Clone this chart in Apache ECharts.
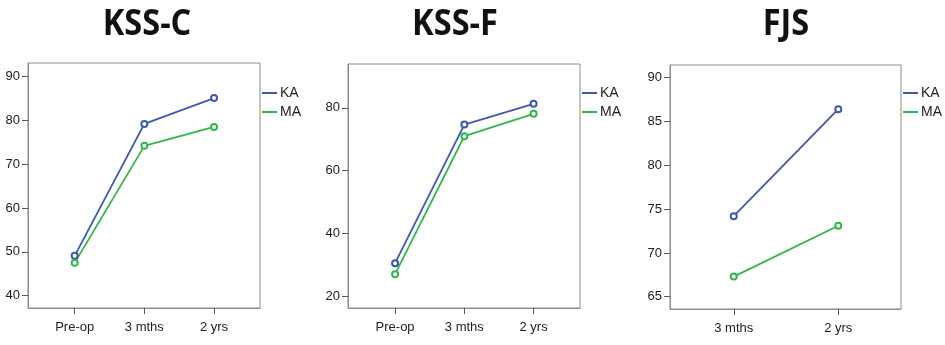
<!DOCTYPE html>
<html>
<head>
<meta charset="utf-8">
<script src="https://cdn.jsdelivr.net/npm/echarts@6/dist/echarts.min.js"></script>
<style>
  html, body { margin: 0; padding: 0; background: #fff; }
  #chart { width: 945px; height: 345px; }
</style>
</head>
<body>
<div id="chart"></div>
<script>
// categories
const catsLong = ['Pre-op', '3 mths', '2 yrs'];
const catsShort = ['3 mths', '2 yrs'];

// KSS-C
const kssC_KA = [49.1, 79.2, 85.1];
const kssC_MA = [47.5, 74.2, 78.5];
const kssC_ticks = [40, 50, 60, 70, 80, 90];

// KSS-F
const kssF_KA = [30.5, 74.7, 81.3];
const kssF_MA = [27.0, 71.0, 78.1];
const kssF_ticks = [20, 40, 60, 80];

// FJS
const fjs_KA = [74.2, 86.4];
const fjs_MA = [67.3, 73.1];
const fjs_ticks = [65, 70, 75, 80, 85, 90];

const titles = ['KSS-C', 'KSS-F', 'FJS'];
const seriesNames = ['KA', 'MA'];
const colors = ['#3e58ac', '#2eb848'];
const markerColors = ['#8595d0', '#7fd28f'];

const labelFont = { color: '#222', fontSize: 13, fontFamily: 'Liberation Sans, Arial, sans-serif' };

// panel layout
const panels = [
    { grid: { left: 28, top: 63, width: 232, height: 245 }, x: [-0.67, 2.66], y: [37.2, 93.1],
      cats: catsLong, ticks: kssC_ticks, data: [kssC_KA, kssC_MA], title: 147, legend: 262 },
    { grid: { left: 348, top: 64, width: 232, height: 244 }, x: [-0.68, 2.67], y: [16.2, 94.0],
      cats: catsLong, ticks: kssF_ticks, data: [kssF_KA, kssF_MA], title: 455, legend: 582 },
    { grid: { left: 670, top: 65, width: 231, height: 244 }, x: [-0.61, 1.6], y: [63.6, 91.45],
      cats: catsShort, ticks: fjs_ticks, data: [fjs_KA, fjs_MA], title: 786, legend: 903 }
];

const toPoints = (vals) => vals.map((v, i) => [i, v]);

const option = {
    backgroundColor: '#fff',
    animation: false,
    grid: [], xAxis: [], yAxis: [], series: [], legend: [], graphic: []
};

panels.forEach((p, k) => {
    option.grid.push(Object.assign({
        show: true, borderColor: '#8c8c8c', borderWidth: 1, containLabel: false
    }, p.grid));

    option.xAxis.push({
        type: 'value', gridIndex: k, min: p.x[0], max: p.x[1],
        splitLine: { show: false },
        axisLine: { show: true, onZero: false, lineStyle: { color: '#8c8c8c' } },
        axisTick: { show: true, length: 6, lineStyle: { color: '#555' }, customValues: p.cats.map((c, i) => i) },
        axisLabel: Object.assign({
            margin: 13, customValues: p.cats.map((c, i) => i),
            formatter: (v) => p.cats[Math.round(v)] || ''
        }, labelFont)
    });

    option.yAxis.push({
        type: 'value', gridIndex: k, min: p.y[0], max: p.y[1],
        splitLine: { show: false },
        axisLine: { show: true, onZero: false, lineStyle: { color: '#8c8c8c' } },
        axisTick: { show: true, length: 6, lineStyle: { color: '#555' }, customValues: p.ticks },
        axisLabel: Object.assign({ margin: 8, customValues: p.ticks }, labelFont)
    });

    p.data.forEach((vals, s) => {
        option.series.push({
            name: seriesNames[s], type: 'line', xAxisIndex: k, yAxisIndex: k,
            data: toPoints(vals),
            symbol: 'emptyCircle', symbolSize: 6,
            lineStyle: { color: colors[s], width: 1.8 },
            itemStyle: { color: colors[s], borderColor: markerColors[s], borderWidth: 1 }
        });
    });

    option.legend.push({
        orient: 'vertical', left: p.legend, top: 86, padding: 0,
        itemWidth: 15, itemHeight: 2, itemGap: 5, icon: 'rect',
        data: seriesNames,
        itemStyle: { borderWidth: 0 },
        textStyle: { color: '#222', fontSize: 14, fontFamily: 'Liberation Sans, Arial, sans-serif', lineHeight: 14, padding: [0, 0, 0, -2] }
    });

    option.graphic.push({
        type: 'text', x: p.title, y: 25, scaleX: 0.93,
        style: {
            text: titles[k], textAlign: 'center', textVerticalAlign: 'middle',
            font: 'bold 35px "Open Sans", "DejaVu Sans Condensed", sans-serif',
            fill: '#111'
        }
    });
});

const chart = echarts.init(document.getElementById('chart'));
chart.setOption(option);
</script>
</body>
</html>
